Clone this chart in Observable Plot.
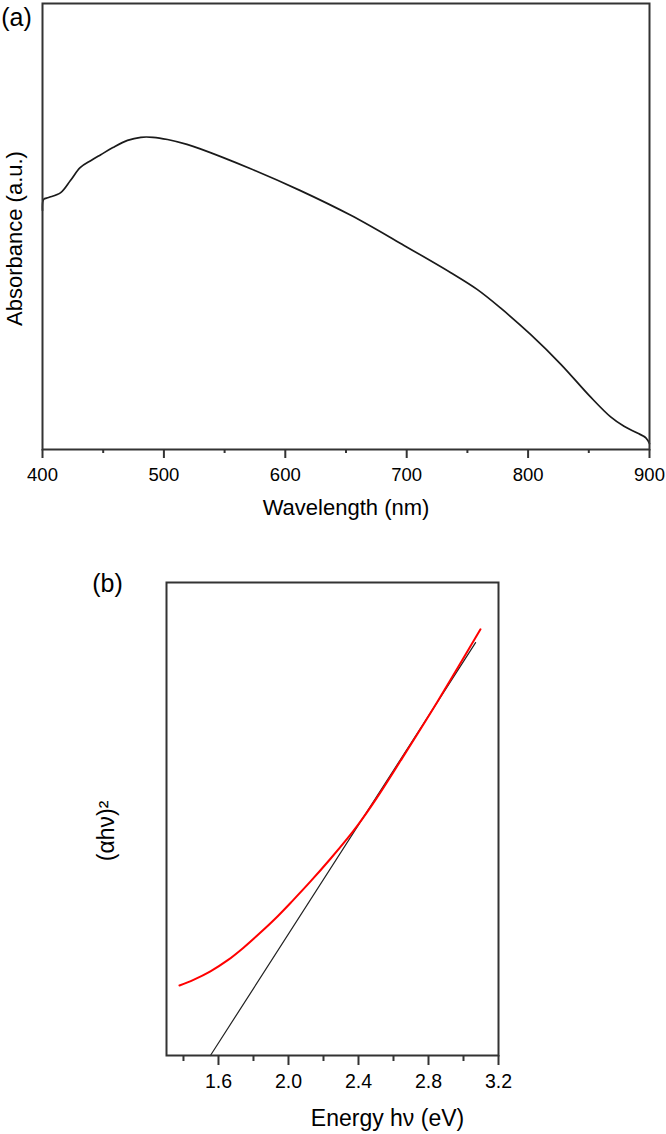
<!DOCTYPE html>
<html><head><meta charset="utf-8">
<script src="https://cdn.jsdelivr.net/npm/d3@7"></script>
<script src="https://cdn.jsdelivr.net/npm/@observablehq/plot@0.6"></script>
<style>
body{margin:0;background:#fff;width:666px;height:1134px;overflow:hidden}
#a,#b{position:absolute;left:0}
#a{top:0}
#b{top:520px}
</style></head><body>
<div id="a"></div><div id="b"></div>
<script>
// Panel (a): UV-vis absorbance
const wavelengthNm = [400, 401, 405, 415, 423, 431, 440, 448, 458, 470, 481, 491, 503, 519, 530, 571, 612, 654, 695, 736, 758, 777, 802, 827, 851, 868, 879, 890, 897, 900];
const absorbance   = [53.6, 56.1, 56.5, 57.6, 60.3, 63.2, 64.8, 66.1, 67.7, 69.3, 70.0, 70.0, 69.5, 68.4, 67.4, 63.0, 58.1, 52.5, 46.2, 39.7, 35.9, 31.8, 25.8, 19.1, 11.9, 7.3, 5.2, 3.7, 2.6, 1.3];
const wavelengthTicks = [400, 500, 600, 700, 800, 900];
const wavelengthMinorTicks = [450, 550, 650, 750, 850];

// Panel (b): Tauc plot
const energyEv = [1.377, 1.457, 1.554, 1.651, 1.743, 1.840, 1.937, 2.023, 2.126, 2.240, 2.337, 2.394, 2.500, 2.640, 2.851, 3.097];
const ahv2     = [14.8, 16.0, 17.8, 20.1, 22.8, 26.0, 29.4, 32.7, 36.8, 41.6, 45.9, 48.6, 54.2, 62.3, 74.8, 90.1];
const fitEnergy = [1.554, 3.069];
const fitValue  = [0, 87.3];
const energyTicks = [1.6, 2.0, 2.4, 2.8, 3.2];
const energyMinorTicks = [1.4, 1.8, 2.2, 2.6, 3.0];

const font = "'Liberation Sans', Arial, sans-serif";
const axisColor = "#333";

const dataA = wavelengthNm.map((w, i) => ({w, a: absorbance[i]}));
const dataB = energyEv.map((e, i) => ({e, v: ahv2[i]}));
const fitB = fitEnergy.map((e, i) => ({e, v: fitValue[i]}));

const plotA = Plot.plot({
  width: 666, height: 520,
  marginLeft: 42, marginRight: 17, marginTop: 3, marginBottom: 71,
  style: {fontFamily: font, background: "white", color: "black"},
  x: {domain: [400, 900]},
  y: {domain: [0, 100], axis: null},
  marks: [
    Plot.line(dataA, {x: "w", y: "a", stroke: "#1a1a1a", strokeWidth: 1.7, curve: "catmull-rom"}),
    Plot.frame({stroke: axisColor, strokeWidth: 2}),
    Plot.axisX(wavelengthMinorTicks, {tickSize: 4, text: null, stroke: axisColor, strokeWidth: 2, label: null}),
    Plot.axisX(wavelengthTicks, {tickSize: 9, tickPadding: 9, fontSize: 18.5, stroke: axisColor, strokeWidth: 2, fill: "black", label: null, tickFormat: d3.format("d")}),
    Plot.text(["Wavelength (nm)"], {frameAnchor: "bottom", textAnchor: "middle", lineAnchor: "middle", dy: 58, fontSize: 22, fill: "black"}),
    Plot.text(["Absorbance (a.u.)"], {frameAnchor: "left", textAnchor: "middle", lineAnchor: "middle", dx: -28, dy: 12, rotate: -90, fontSize: 22, fill: "black"}),
    Plot.text(["(a)"], {frameAnchor: "top-left", textAnchor: "middle", lineAnchor: "middle", dx: -26, dy: 14, fontSize: 25, fill: "black"})
  ]
});
document.getElementById("a").appendChild(plotA);

const plotB = Plot.plot({
  width: 666, height: 614,
  marginLeft: 166, marginRight: 168, marginTop: 62, marginBottom: 79,
  style: {fontFamily: font, background: "white", color: "black"},
  x: {domain: [1.303, 3.2]},
  y: {domain: [0, 100], axis: null},
  marks: [
    Plot.line(fitB, {x: "e", y: "v", stroke: "#222", strokeWidth: 1.2}),
    Plot.line(dataB, {x: "e", y: "v", stroke: "#ff0000", strokeWidth: 2, curve: "catmull-rom"}),
    Plot.frame({stroke: axisColor, strokeWidth: 2}),
    Plot.axisX(energyMinorTicks, {tickSize: 6, text: null, stroke: axisColor, strokeWidth: 2, label: null}),
    Plot.axisX(energyTicks, {tickSize: 10, tickPadding: 9, fontSize: 19.5, stroke: axisColor, strokeWidth: 2, fill: "black", label: null, tickFormat: d3.format(".1f")}),
    Plot.text(["Energy hν (eV)"], {frameAnchor: "bottom", textAnchor: "middle", lineAnchor: "middle", dx: 55, dy: 63, fontSize: 23, fill: "black"}),
    Plot.text(["(αhν)²"], {frameAnchor: "left", textAnchor: "middle", lineAnchor: "middle", dx: -60, dy: 12, rotate: -90, fontSize: 23, fill: "black"}),
    Plot.text(["(b)"], {frameAnchor: "top-left", textAnchor: "middle", lineAnchor: "middle", dx: -59, dy: 1, fontSize: 25, fill: "black"})
  ]
});
document.getElementById("b").appendChild(plotB);
</script></body></html>
